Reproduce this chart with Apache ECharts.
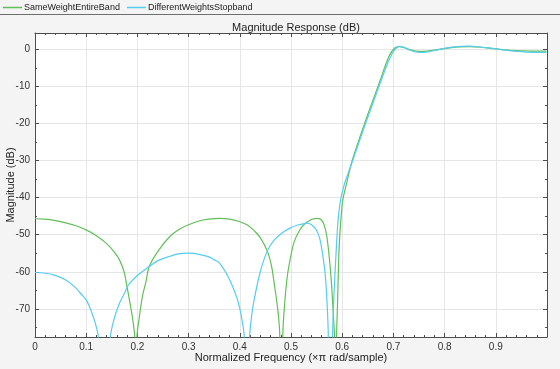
<!DOCTYPE html>
<html><head><meta charset="utf-8">
<script src="https://cdn.jsdelivr.net/npm/echarts@6/dist/echarts.min.js"></script>
<style>html,body{margin:0;padding:0;background:#f4f4f4;}#c{width:560px;height:369px;}</style>
</head><body><div id="c"></div>
<script>
const seriesNames = ['SameWeightEntireBand', 'DifferentWeightsStopband'];
const freqSame = [0,0.02,0.04,0.06,0.08,0.10,0.12,0.14,0.155,0.165,0.174,0.179,0.1875,0.192,0.195,0.197,0.199,0.204,0.21,0.217,0.223,0.24,0.262,0.28,0.295,0.32,0.34,0.36,0.38,0.40,0.415,0.43,0.44,0.454,0.462,0.467,0.474,0.478,0.481,0.484,0.488,0.493,0.50,0.506,0.516,0.526,0.54,0.552,0.56,0.565,0.57,0.575,0.579,0.582,0.585,0.587,0.589,0.591,0.594,0.598,0.601,0.608,0.62,0.646,0.672,0.691,0.702,0.711,0.72,0.735,0.751,0.77,0.79,0.81,0.83,0.849,0.87,0.89,0.907,0.93,0.95,0.97,0.999];
const magSame = [-45.7,-45.8,-46.2,-46.8,-47.6,-48.7,-50.3,-52.4,-54.7,-56.8,-60,-63.5,-70,-74,-78,-120,-78,-72,-66.5,-62.5,-58.6,-54.5,-50.7,-48.7,-47.6,-46.3,-45.8,-45.6,-45.8,-46.5,-47.4,-49.2,-50.8,-54.5,-58.5,-63,-70,-77,-120,-77,-68,-61,-55.5,-52,-49,-47.2,-45.9,-45.6,-46.1,-47.5,-50.5,-56.5,-63,-70,-78,-120,-78,-68,-53.5,-45,-40.8,-36.5,-29.8,-19.1,-9.2,-2.0,0.3,0.7,0.5,-0.2,-0.55,-0.4,0.0,0.4,0.65,0.7,0.55,0.25,0.0,-0.25,-0.4,-0.5,-0.5];
const freqDiff = [0,0.02,0.038,0.06,0.077,0.09,0.1,0.109,0.118,0.124,0.1355,0.147,0.155,0.165,0.174,0.179,0.184,0.2,0.223,0.24,0.262,0.28,0.301,0.32,0.34,0.35,0.36,0.376,0.386,0.396,0.403,0.409,0.414,0.419,0.423,0.428,0.44,0.454,0.467,0.48,0.497,0.513,0.526,0.532,0.54,0.549,0.556,0.562,0.567,0.571,0.573,0.577,0.581,0.584,0.588,0.592,0.597,0.603,0.607,0.62,0.646,0.672,0.691,0.703,0.712,0.72,0.735,0.751,0.77,0.79,0.81,0.83,0.849,0.87,0.89,0.907,0.93,0.95,0.97,0.999];
const magDiff = [-60.2,-60.4,-60.9,-62.2,-64,-66,-67.6,-70.3,-74,-78,-120,-78,-72.5,-68.5,-66,-64.5,-63.3,-61,-58.6,-57.0,-55.9,-55.2,-55.0,-55.3,-56.0,-56.8,-57.6,-61,-64,-67.8,-72,-78,-120,-78,-72,-67.6,-60,-54.3,-51.5,-49.8,-48.3,-47.4,-47.0,-46.9,-47.3,-48.6,-51,-55.5,-61,-70,-78,-120,-78,-66,-55,-46,-40.5,-37,-35.2,-30.2,-19.9,-10,-3,0,0.8,0.6,-0.4,-0.85,-0.6,0.0,0.5,0.8,0.85,0.6,0.3,0.0,-0.4,-0.65,-0.8,-0.8];
const yMajor = [-70,-60,-50,-40,-30,-20,-10,0];
const yMinor = [-75,-65,-55,-45,-35,-25,-15,-5];
const xMajor = [0,0.1,0.2,0.3,0.4,0.5,0.6,0.7,0.8,0.9];
const titleText = 'Magnitude Response (dB)';
const xName = 'Normalized Frequency (\u00d7\u03c0 rad/sample)';
const yName = 'Magnitude (dB)';

const Y_MIN = -77.6, Y_MAX = 4.4;
const FONT = 'Liberation Sans, Arial, sans-serif';
const axisCol = '#4d4d4d';
const gridCol = '#e6e6e6';

function pairs(f, m){ return f.map((v,i)=>[v,m[i]]); }

function yAx(pos, ticks, len, main){
  return {
    type:'value', min:Y_MIN, max:Y_MAX, position:pos, splitNumber:8,
    axisLine:{show:main, onZero:false, lineStyle:{color:axisCol, width:1}},
    axisTick:{show:true, inside:true, length:len, customValues:ticks, lineStyle:{color:axisCol}},
    axisLabel:main && pos==='left' ? {show:true, customValues:yMajor, margin:5, color:'#333', fontSize:10, fontFamily:FONT} : {show:false},
    splitLine:{show:main && pos==='left', lineStyle:{color:gridCol, width:1}},
    name: main && pos==='left' ? yName : '',
    nameLocation:'middle', nameGap:19, nameRotate:90, nameMoveOverlap:false,
    nameTextStyle:{color:'#222', fontSize:11, fontFamily:FONT}
  };
}
function xAx(pos, main){
  return {
    type:'value', min:0, max:1, interval:0.1, position:pos,
    axisLine:{show:true, onZero:false, lineStyle:{color:axisCol, width:1}},
    axisTick:{show:true, inside:true, length:4, customValues:xMajor, lineStyle:{color:axisCol}},
    minorTick:{show:true, splitNumber:5, length:2, lineStyle:{color:axisCol}},
    axisLabel: main ? {show:true, customValues:xMajor, margin:5, color:'#333', fontSize:10, fontFamily:FONT, formatter:v=> String(+(+v).toFixed(1))} : {show:false},
    splitLine:{show:main, lineStyle:{color:gridCol, width:1}},
    name: main ? xName : '', nameLocation:'middle', nameGap:15, nameMoveOverlap:false,
    nameTextStyle:{color:'#222', fontSize:11, fontFamily:FONT}
  };
}

const chart = echarts.init(document.getElementById('c'), null, {renderer:'canvas'});
chart.setOption({
  backgroundColor:'#f4f4f4',
  animation:false,
  title:{text:titleText, left:291, textAlign:'center', top:17, textStyle:{fontSize:11, fontWeight:'normal', color:'#222', fontFamily:FONT}},
  legend:{
    left:3, top:3, padding:0, itemWidth:19, itemHeight:1.5, itemGap:7, icon:'rect',
    textStyle:{fontSize:9, color:'#222', fontFamily:FONT, padding:[0,0,0,-3]},
    data:seriesNames
  },
  graphic:[{type:'line', shape:{x1:0,y1:14.5,x2:560,y2:14.5}, style:{stroke:'#6e6e6e', lineWidth:1}, silent:true}],
  grid:{left:35, right:13, top:33, bottom:32, show:true, backgroundColor:'#ffffff', borderWidth:0, outerBoundsMode:'none', containLabel:false},
  xAxis:[xAx('bottom', true), xAx('top', false)],
  yAxis:[yAx('left', yMajor, 4, true), yAx('left', yMinor, 2, false), yAx('right', yMajor, 4, true), yAx('right', yMinor, 2, false)],
  series:[
    {name:seriesNames[0], type:'line', data:pairs(freqSame, magSame), showSymbol:false, smooth:0.35, clip:true,
     lineStyle:{color:'#62bf5a', width:1.2}, itemStyle:{color:'#62bf5a'}},
    {name:seriesNames[1], type:'line', data:pairs(freqDiff, magDiff), showSymbol:false, smooth:0.35, clip:true,
     lineStyle:{color:'#55cdf0', width:1.2}, itemStyle:{color:'#55cdf0'}}
  ]
});
</script></body></html>
